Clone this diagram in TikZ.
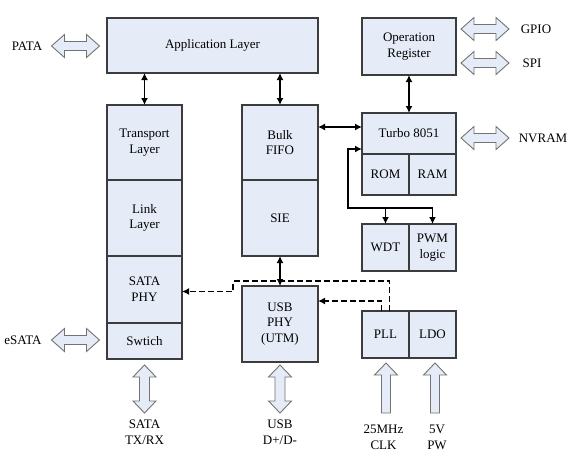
\documentclass[tikz,border=0pt]{standalone}
\usepackage{fontspec}
\setmainfont{Liberation Serif}
\usetikzlibrary{positioning,arrows.meta}
\definecolor{blockfill}{RGB}{230,236,247}
\definecolor{blockline}{RGB}{60,60,60}
\tikzset{
  blk/.style={draw=blockline,fill=blockfill,line width=1.1pt,outer sep=0pt,inner sep=0pt,
    align=center,font=\fontsize{13}{15.7}\selectfont},
  lbl/.style={align=center,inner sep=0pt,font=\fontsize{13}{15.7}\selectfont},
  biarr/.style={{Latex[length=7pt,width=7pt]}-{Latex[length=7pt,width=7pt]},line width=1.5pt},
  arr/.style={-{Latex[length=7pt,width=7pt]},line width=1.5pt},
  dasharr/.style={arr,dash pattern=on 6pt off 3pt},
  fat/.style={draw=black!55,fill=blockfill,line width=0.9pt,line join=miter},
  hdbl/.pic={\draw[fat] (-24,0) -- (-11,-11.5) -- (-11,-4.5) -- (11,-4.5) -- (11,-11.5) -- (24,0)
    -- (11,11.5) -- (11,4.5) -- (-11,4.5) -- (-11,11.5) -- cycle;},
  vdbl/.pic={\draw[fat] (0,-24) -- (11.5,-12) -- (5,-12) -- (5,12) -- (11.5,12) -- (0,24)
    -- (-11.5,12) -- (-5,12) -- (-5,-12) -- (-11.5,-12) -- cycle;},
  upfat/.pic={\draw[fat] (0,-25) -- (11.5,-13) -- (4.5,-13) -- (4.5,25) -- (-4.5,25)
    -- (-4.5,-13) -- (-11.5,-13) -- cycle;}
}
\begin{document}
\begin{tikzpicture}[x=1pt,y=-1pt]
  \useasboundingbox[fill=white] (0,0) rectangle (577,455);
  % SATA side
  \node[blk,minimum width=211pt,minimum height=55pt] (app) at (212.5,45.5) {Application Layer};
  \node[blk,minimum width=75pt,minimum height=75pt] (trans) at (144.5,142.5) {Transport\\Layer};
  \node[blk,minimum width=75pt,minimum height=76pt,below=0pt of trans] (link) {Link\\Layer};
  \node[blk,minimum width=75pt,minimum height=67pt,below=0pt of link] (sataphy) {SATA\\PHY};
  \node[blk,minimum width=75pt,minimum height=36pt,below=0pt of sataphy] (swtich) {Swtich};
  % USB side
  \node[blk,minimum width=76pt,minimum height=75pt] (bulk) at (280,142.5) {Bulk\\FIFO};
  \node[blk,minimum width=76pt,minimum height=76pt,below=0pt of bulk] (sie) {SIE};
  \node[blk,minimum width=76pt,minimum height=76pt] (usbphy) at (280,324) {USB\\PHY\\(UTM)};
  % 8051 side
  \node[blk,minimum width=94pt,minimum height=57pt] (opreg) at (409,46.5) {Operation\\Register};
  \node[blk,minimum width=94pt,minimum height=41pt] (turbo) at (409,133.5) {Turbo 8051};
  \node[blk,minimum width=47pt,minimum height=41pt,below right=0pt of turbo.south west] (rom) {ROM};
  \node[blk,minimum width=47pt,minimum height=41pt,right=0pt of rom] (ram) {RAM};
  \node[blk,minimum width=47pt,minimum height=47pt] (wdt) at (385.5,247.5) {WDT};
  \node[blk,minimum width=47pt,minimum height=47pt,right=0pt of wdt] (pwm) {PWM\\logic};
  \node[blk,minimum width=47pt,minimum height=47pt] (pll) at (385.5,334.5) {PLL};
  \node[blk,minimum width=47pt,minimum height=47pt,right=0pt of pll] (ldo) {LDO};

  \draw[biarr] (trans.north |- app.south) -- (trans.north);
  \draw[biarr] (bulk.north |- app.south) -- (bulk.north);
  \draw[biarr] (opreg.south) -- (turbo.north);
  \draw[biarr] ([yshift=6.5pt]bulk.east |- turbo.west) -- ([yshift=6.5pt]turbo.west);
  \draw[biarr] (sie.south) -- (usbphy.north);
  \coordinate (bus) at (348,208);
  \draw[arr] (wdt.north |- bus) -- (wdt.north);
  \draw[arr] (pwm.north |- bus) -- (bus) |- ([yshift=5pt]turbo.south west);
  \draw[arr] (pwm.north |- bus) -- (pwm.north);
  \coordinate (clkjog) at (233,281);
  \draw[dasharr] ([xshift=4pt]pll.north) |- (clkjog) |- ([yshift=-2pt]sataphy.east);
  \draw[dasharr] ([xshift=-4pt]pll.north) |- ([yshift=23pt]usbphy.east);

  % outside signals
  \pic at (75.5,46) {hdbl};
  \pic at (75.5,340) {hdbl};
  \pic at (485,29) {hdbl};
  \pic at (485,63) {hdbl};
  \pic at (485,138) {hdbl};
  \pic at (144.5,389) {vdbl};
  \pic at (280,389) {vdbl};
  \pic at (386,388) {upfat};
  \pic at (435,388) {upfat};
  \node[lbl] (pata) at (27,46) {PATA};
  \node[lbl] (esata) at (23,340) {eSATA};
  \node[lbl] (gpio) at (536,29) {GPIO};
  \node[lbl] (spi) at (532,63) {SPI};
  \node[lbl] (nvram) at (543,138) {NVRAM};
  \node[lbl] (satatx) at (144.5,432) {SATA\\TX/RX};
  \node[lbl] (usbdp) at (280,432) {USB\\D+/D-};
  \node[lbl] (clk) at (383.5,437) {25MHz\\CLK};
  \node[lbl] (pw) at (437,437) {5V\\PW};
\end{tikzpicture}
\end{document}
